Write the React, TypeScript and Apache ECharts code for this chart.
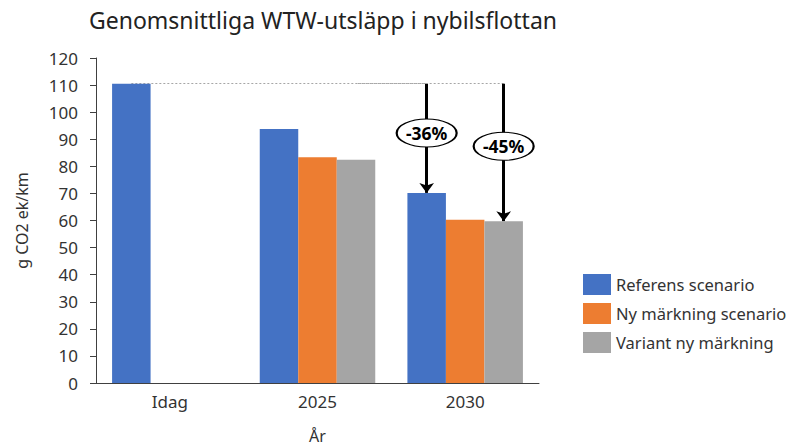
import React, { useEffect, useRef } from "react";
import * as echarts from "echarts";

const categories = ["Idag", "2025", "2030"];
const seriesNames = ["Referens scenario", "Ny märkning scenario", "Variant ny märkning"];
const referens = [110.5, 93.8, 70.2];
const nyMarkning: (number | string)[] = ["-", 83.4, 60.3];
const variant: (number | string)[] = ["-", 82.4, 59.7];
const colors = ["#4472C4", "#ED7D31", "#A5A5A5"];
const baseline = 110.5;
const reductions = ["-36%", "-45%"];
const ellipseLevels = [92.3, 87.4];

const FONT = "'Noto Sans', sans-serif";
const ellipsePath = "path://M0 50A100 50 0 1 1 200 50A100 50 0 1 1 0 50Z";

const dashed = { color: "#A6A6A6", width: 1, type: [2, 2] as any };

const ellipsePoint = (value: number, text: string) => ({
  coord: ["2030", value],
  symbol: ellipsePath,
  symbolSize: [60, 28],
  itemStyle: { color: "#fff", borderColor: "#000", borderWidth: 1.5 },
  label: {
    show: true,
    position: "inside",
    formatter: text,
    color: "#000",
    fontWeight: "bold",
    fontSize: 17.5,
    fontFamily: FONT,
  },
});

const arrowLine = (target: number) => [
  { coord: ["2030", baseline], symbol: "none", lineStyle: { color: "#000", width: 3, type: "solid" } },
  { coord: ["2030", target], symbol: "arrow", symbolSize: [11, 10] },
];

export default function App() {
  const ref = useRef<HTMLDivElement>(null);
  useEffect(() => {
    if (!ref.current) return;
    const chart = echarts.init(ref.current, null, { renderer: "svg" });
    chart.setOption({
      animation: false,
      textStyle: { fontFamily: FONT },
      title: {
        text: "Genomsnittliga WTW-utsläpp i nybilsflottan",
        left: 84,
        top: 3,
        textStyle: { fontSize: 23, fontWeight: "normal", color: "#222", fontFamily: FONT },
      },
      legend: {
        orient: "vertical",
        left: 578,
        top: 269,
        itemWidth: 28,
        itemHeight: 21,
        itemGap: 8,
        icon: "rect",
        textStyle: { fontSize: 16.5, color: "#333", fontFamily: FONT },
        data: seriesNames,
      },
      grid: { left: 96, right: 251, top: 58, bottom: 64, outerBoundsMode: "none", containLabel: false },
      xAxis: {
        type: "category",
        data: categories,
        name: "År",
        nameLocation: "middle",
        nameGap: 44,
        nameTextStyle: { fontSize: 16, color: "#333", lineHeight: 18 },
        axisLine: { lineStyle: { color: "#404040", width: 1 } },
        axisTick: { show: false },
        axisLabel: { fontSize: 17, color: "#333", margin: 10 },
      },
      yAxis: {
        type: "value",
        min: 0,
        max: 120,
        interval: 10,
        name: "g CO2 ek/km",
        nameLocation: "middle",
        nameGap: 66,
        nameTextStyle: { fontSize: 16, color: "#333" },
        axisLine: { show: true, lineStyle: { color: "#404040", width: 1 } },
        axisTick: { show: true, length: 6, lineStyle: { color: "#404040" } },
        axisLabel: { fontSize: 17, color: "#333", margin: 18 },
        splitLine: { show: false },
      },
      series: [
        {
          name: seriesNames[0],
          type: "bar",
          data: referens,
          barWidth: 38.5,
          barGap: "0%",
          itemStyle: { color: colors[0] },
          markLine: {
            z: 1,
            silent: true,
            symbol: ["none", "none"],
            label: { show: false },
            lineStyle: dashed,
            data: [
              [{ coord: ["Idag", baseline] }, { coord: ["2030", baseline] }],
              arrowLine(referens[2]),
            ],
          },
          markPoint: {
            z: 7,
            silent: true,
            data: [ellipsePoint(ellipseLevels[0], reductions[0])],
          },
        },
        {
          name: seriesNames[1],
          type: "bar",
          data: nyMarkning,
          barWidth: 38.5,
          barGap: "0%",
          itemStyle: { color: colors[1] },
        },
        {
          name: seriesNames[2],
          type: "bar",
          data: variant,
          barWidth: 38.5,
          barGap: "0%",
          itemStyle: { color: colors[2] },
          markLine: {
            z: 1,
            silent: true,
            symbol: ["none", "none"],
            label: { show: false },
            lineStyle: dashed,
            data: [
              [{ coord: ["2030", baseline] }, { coord: ["2025", baseline] }],
              arrowLine(variant[2] as number),
            ],
          },
          markPoint: {
            z: 7,
            silent: true,
            data: [ellipsePoint(ellipseLevels[1], reductions[1])],
          },
        },
      ],
    });
    return () => chart.dispose();
  }, []);
  return <div ref={ref} style={{ width: 790, height: 447, position: "absolute", left: 0, top: 0 }} />;
}
